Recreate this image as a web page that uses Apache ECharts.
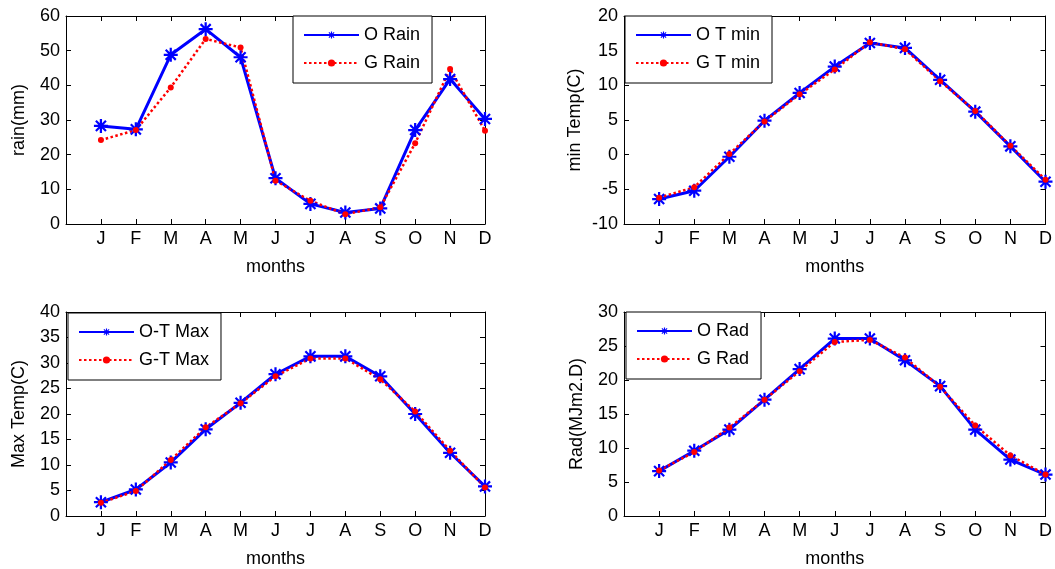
<!DOCTYPE html>
<html>
<head>
<meta charset="utf-8">
<script src="https://cdn.jsdelivr.net/npm/echarts@6/dist/echarts.min.js"></script>
<style>
html, body { margin: 0; padding: 0; background: #fff; }
#main { width: 1055px; height: 569px; }
</style>
</head>
<body>
<div id="main"></div>
<script>
// month labels, ticks at 1..12
var months = ['J', 'F', 'M', 'A', 'M', 'J', 'J', 'A', 'S', 'O', 'N', 'D'];

// rain (mm)
var oRain = [28.3, 27.3, 48.8, 56.2, 48.1, 13.2, 5.8, 3.3, 4.5, 27.1, 41.8, 30.3];
var gRain = [24.2, 27.1, 39.4, 53.4, 50.9, 12.5, 6.7, 2.8, 4.8, 23.3, 44.7, 26.9];

// min temperature (C)
var oTmin = [-6.4, -5.2, -0.3, 4.9, 8.9, 12.7, 16.1, 15.4, 10.8, 6.2, 1.2, -3.9];
var gTmin = [-6.2, -4.7, 0.1, 4.8, 8.7, 12.3, 16.2, 15.2, 10.6, 6.3, 1.3, -3.6];

// max temperature (C)
var oTmax = [2.7, 5.2, 10.5, 17.0, 22.2, 27.8, 31.3, 31.3, 27.4, 20.0, 12.4, 5.8];
var gTmax = [2.6, 4.9, 11.0, 17.4, 22.1, 27.4, 30.9, 30.9, 26.8, 20.5, 12.8, 5.6];

// radiation
var oRad = [6.6, 9.6, 12.7, 17.1, 21.6, 26.1, 26.1, 22.9, 19.1, 12.7, 8.3, 6.1];
var gRad = [6.7, 9.4, 13.0, 17.1, 21.3, 25.6, 25.9, 23.3, 19.0, 13.3, 8.9, 6.1];

var FONT = 'Liberation Sans, Arial, sans-serif';
// matlab-ish '*' marker
var STAR = 'path://M8.4 0L11.6 0L11.6 20L8.4 20Z M0 8.4L20 8.4L20 11.6L0 11.6Z ' +
  'M1.7 3.9L3.9 1.7L18.3 16.1L16.1 18.3Z M16.1 1.7L18.3 3.9L3.9 18.3L1.7 16.1Z';

var panels = [
  { grid: { left: 66, top: 16, width: 419, height: 208 },
    yMin: 0, yMax: 60, step: 10, yName: 'rain(mm)', gap: 38,
    obs: oRain, gen: gRain, names: ['O Rain', 'G Rain'], leg: { left: 293, top: 16 } },
  { grid: { left: 624, top: 16, width: 423, height: 208 },
    yMin: -10, yMax: 20, step: 5, yName: 'min Temp(C)', gap: 40,
    obs: oTmin, gen: gTmin, names: ['O T min', 'G T min'], leg: { left: 625, top: 16 } },
  { grid: { left: 66, top: 312, width: 419, height: 205 },
    yMin: 0, yMax: 40, step: 5, yName: 'Max Temp(C)', gap: 38,
    obs: oTmax, gen: gTmax, names: ['O-T Max', 'G-T Max'], leg: { left: 68, top: 313 } },
  { grid: { left: 624, top: 312, width: 423, height: 205 },
    yMin: 0, yMax: 30, step: 5, yName: 'Rad(MJm2.D)', gap: 38,
    obs: oRad, gen: gRad, names: ['O Rad', 'G Rad'], leg: { left: 626, top: 312 } }
];

function pairs(vals) {
  return vals.map(function (v, i) { return [i + 1, v]; });
}

var option = {
  animation: false,
  backgroundColor: '#fff',
  textStyle: { fontFamily: FONT },
  grid: [], xAxis: [], yAxis: [], legend: [], series: []
};

panels.forEach(function (p, k) {
  option.grid.push(Object.assign({ show: false, containLabel: false }, p.grid));
  var lineStyle = { color: '#000', width: 1 };
  var tick = { show: true, inside: true, length: 5, lineStyle: { color: '#000' } };
  // bottom months axis
  option.xAxis.push({
    type: 'value', gridIndex: k, position: 'bottom', min: 0, max: 12, interval: 1,
    axisLine: { show: true, onZero: false, lineStyle: lineStyle },
    axisTick: tick, splitLine: { show: false },
    axisLabel: { color: '#000', fontSize: 18, fontFamily: FONT, margin: 6,
      formatter: function (v) { return months[v - 1] || ''; } },
    name: 'months', nameLocation: 'middle', nameGap: 34,
    nameTextStyle: { color: '#000', fontSize: 18, fontFamily: FONT }
  });
  // top frame
  option.xAxis.push({
    type: 'value', gridIndex: k, position: 'top', min: 0, max: 12, interval: 1,
    axisLine: { show: true, onZero: false, lineStyle: lineStyle },
    axisTick: tick, splitLine: { show: false }, axisLabel: { show: false }
  });
  option.yAxis.push({
    type: 'value', gridIndex: k, position: 'left', min: p.yMin, max: p.yMax, interval: p.step,
    axisLine: { show: true, onZero: false, lineStyle: lineStyle },
    axisTick: tick, splitLine: { show: false },
    axisLabel: { color: '#000', fontSize: 18, fontFamily: FONT, margin: 6 },
    name: p.yName, nameLocation: 'middle', nameGap: p.gap,
    nameTextStyle: { color: '#000', fontSize: 18, fontFamily: FONT }
  });
  option.yAxis.push({
    type: 'value', gridIndex: k, position: 'right', min: p.yMin, max: p.yMax, interval: p.step,
    axisLine: { show: true, onZero: false, lineStyle: lineStyle },
    axisTick: tick, splitLine: { show: false }, axisLabel: { show: false }
  });
  option.legend.push({
    left: p.leg.left, top: p.leg.top, orient: 'vertical',
    data: p.names, itemWidth: 55, itemHeight: 9, itemGap: 10,
    padding: [10, 12, 11, 10], borderColor: '#000', borderWidth: 1,
    backgroundColor: '#fff', selectedMode: false,
    textStyle: { color: '#000', fontSize: 18, fontFamily: FONT }
  });
  option.series.push({
    name: p.names[0], type: 'line', xAxisIndex: 2 * k, yAxisIndex: 2 * k,
    data: pairs(p.obs), symbol: STAR, symbolSize: 14,
    itemStyle: { color: '#0000ff' },
    lineStyle: { color: '#0000ff', width: 3 }
  });
  option.series.push({
    name: p.names[1], type: 'line', xAxisIndex: 2 * k, yAxisIndex: 2 * k,
    data: pairs(p.gen), symbol: 'circle', symbolSize: 6,
    itemStyle: { color: '#ff0000' },
    lineStyle: { color: '#ff0000', width: 2.5, type: [2.5, 2.5] }
  });
});

var myChart = echarts.init(document.getElementById('main'));
myChart.setOption(option);
</script>
</body>
</html>
